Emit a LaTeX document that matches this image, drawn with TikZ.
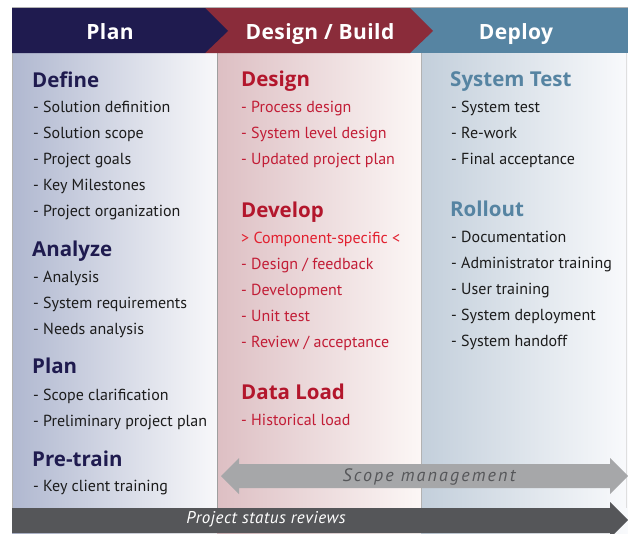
\documentclass[tikz,border=0pt]{standalone}
\usepackage{fontspec}
\setmainfont{PT Sans}
\newfontfamily\headfont{Open Sans}
\definecolor{navy}{HTML}{1F1B4F}
\definecolor{hdred}{HTML}{8A2C3A}
\definecolor{hdblue}{HTML}{5684A2}
\definecolor{redhead}{HTML}{B3162C}
\definecolor{reditem}{HTML}{C21D36}
\definecolor{redbright}{HTML}{E2202F}
\definecolor{itemdark}{HTML}{1C1C1C}
\definecolor{scopegray}{HTML}{A6A7A9}
\definecolor{scopetext}{HTML}{56575A}
\definecolor{statusgray}{HTML}{555659}
\definecolor{planL}{HTML}{B0B8D0}
\definecolor{planR}{HTML}{F8F8FA}
\definecolor{desL}{HTML}{DDBFC3}
\definecolor{desR}{HTML}{FCF7F6}
\definecolor{depL}{HTML}{C3CFDB}
\definecolor{depR}{HTML}{F9FAFC}
\tikzset{
  hdtext/.style={text=white, font=\headfont\fontsize{21}{23}\selectfont\bfseries\addfontfeature{LetterSpace=2}, anchor=base, inner sep=0pt},
  secthead/.style={anchor=base west, inner sep=0pt, font=\headfont\fontsize{20.5}{22}\selectfont\bfseries},
  item/.style={anchor=base west, inner sep=0pt, font=\fontsize{16}{18}\selectfont},
  bartext/.style={anchor=base, inner sep=0pt},
}
\begin{document}
\begin{tikzpicture}[x=1pt,y=-1pt]
\useasboundingbox (0,0) rectangle (628,533);
% column backgrounds
\shade[left color=planL, right color=planR] (12,53) rectangle (217,533);
\shade[left color=desL, right color=desR] (217,53) rectangle (421,533);
\shade[left color=depL, right color=depR] (421,53) rectangle (628,533);
\draw[gray!60, line width=0.8pt] (12,533) -- (12,7.5) -- (628,7.5);
\draw[gray!75, line width=1pt] (217,53) -- (217,508);
\draw[gray!60, line width=1.2pt] (421.5,53) -- (421.5,508);
\draw[gray!25, line width=0.8pt] (626,53) -- (626,508);
% header
\fill[hdblue] (12,8) rectangle (628,53);
\fill[hdred] (205,8) -- (410,8) -- (433,31) -- (410,53) -- (205,53) -- cycle;
\fill[navy] (12,8) -- (205,8) -- (228,31) -- (205,53) -- (12,53) -- cycle;
\node[hdtext] (hplan) at (110,39.5) {Plan};
\node[hdtext] (hdesign) at (320,39.5) {Design / Build};
\node[hdtext] (hdeploy) at (516,39.5) {Deploy};
% Plan column
\node[secthead, text=navy] (define) at (32,87.2) {Define};
\node[item, text=itemdark] (p1) at (33,112.3) {- Solution definition};
\node[item, text=itemdark] (p2) at (33,138.3) {- Solution scope};
\node[item, text=itemdark] (p3) at (33,164.3) {- Project goals};
\node[item, text=itemdark] (p4) at (33,190.3) {- Key Milestones};
\node[item, text=itemdark] (p5) at (33,216.3) {- Project organization};
\node[secthead, text=navy] (analyze) at (32,256.5) {Analyze};
\node[item, text=itemdark] (p6) at (33,282.3) {- Analysis};
\node[item, text=itemdark] (p7) at (33,308.3) {- System requirements};
\node[item, text=itemdark] (p8) at (33,334.3) {- Needs analysis};
\node[secthead, text=navy] (plan) at (32,373.8) {Plan};
\node[item, text=itemdark] (p9) at (33,400) {- Scope clarification};
\node[item, text=itemdark] (p10) at (33,426) {- Preliminary project plan};
\node[secthead, text=navy] (pretrain) at (32,466.2) {Pre-train};
\node[item, text=itemdark] (p11) at (33,491) {- Key client training};
% Design column
\node[secthead, text=redhead] (design) at (241,86.2) {Design};
\node[item, text=reditem] (d1) at (241,112.3) {- Process design};
\node[item, text=reditem] (d2) at (241,138.3) {- System level design};
\node[item, text=reditem] (d3) at (241,164.3) {- Updated project plan};
\node[secthead, text=redhead] (develop) at (241,217.2) {Develop};
\node[item, text=redbright] (d4) at (241,243.3) {> Component-specific <};
\node[item, text=reditem] (d5) at (241,269.3) {- Design / feedback};
\node[item, text=reditem] (d6) at (241,295.3) {- Development};
\node[item, text=reditem] (d7) at (241,321.3) {- Unit test};
\node[item, text=reditem] (d8) at (241,347.3) {- Review / acceptance};
\node[secthead, text=redhead] (dataload) at (241,399.8) {Data Load};
\node[item, text=reditem] (d9) at (241,425.7) {- Historical load};
% Deploy column
\node[secthead, text=hdblue] (systest) at (450,86.2) {System Test};
\node[item, text=itemdark] (e1) at (451,112.3) {- System test};
\node[item, text=itemdark] (e2) at (451,138.3) {- Re-work};
\node[item, text=itemdark] (e3) at (451,164.3) {- Final acceptance};
\node[secthead, text=hdblue] (rollout) at (450,216.5) {Rollout};
\node[item, text=itemdark] (e4) at (451,242.7) {- Documentation};
\node[item, text=itemdark] (e5) at (451,268.7) {- Administrator training};
\node[item, text=itemdark] (e6) at (451,294.7) {- User training};
\node[item, text=itemdark] (e7) at (451,320.7) {- System deployment};
\node[item, text=itemdark] (e8) at (451,346.7) {- System handoff};
% Scope management double arrow
\fill[scopegray] (221,476) -- (239,458) -- (239,464) -- (610,464) -- (610,458) -- (628,476)
  -- (610,494) -- (610,488) -- (239,488) -- (239,494) -- cycle;
\node[bartext, text=scopetext, font=\fontsize{18}{20}\selectfont\itshape\addfontfeature{LetterSpace=12}] (scope) at (429,481) {Scope management};
% Project status reviews bar
\fill[statusgray] (12,508) -- (610,508) -- (610,502) -- (628,520) -- (610,538) -- (610,533) -- (12,533) -- cycle;
\node[bartext, text=white, font=\fontsize{17}{19}\selectfont\itshape\addfontfeature{LetterSpace=3}] (status) at (266,523.3) {Project status reviews};
\end{tikzpicture}
\end{document}
